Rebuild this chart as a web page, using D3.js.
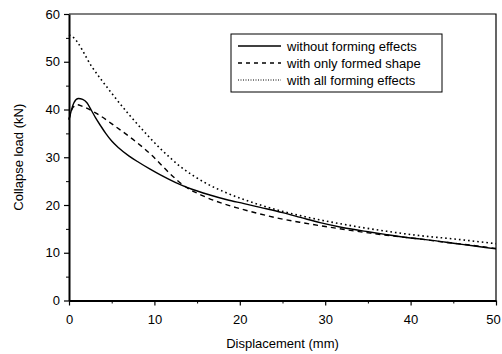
<!DOCTYPE html>
<html>
<head>
<meta charset="utf-8">
<script src="https://cdn.jsdelivr.net/npm/d3@7"></script>
<style>
  body { margin: 0; background: #fff; }
  text { font-family: "Liberation Sans", Arial, sans-serif; fill: #000; }
</style>
</head>
<body>
<div id="chart"></div>
<script>
// values
const solidDisp = [0, 0.3, 0.6, 1.1, 1.6, 2.1, 2.6, 3.1, 3.7, 4.3, 5, 5.8, 7, 8.2, 9.5, 10.7, 12.5, 14.4, 16.5, 18.5, 20.5, 22.4, 25, 27.1, 29.4, 32, 35, 37.2, 40, 42.5, 45, 47.5, 50];
const solidLoad = [37.8, 40, 41.5, 42.3, 42.1, 41.4, 39.9, 38.3, 36.6, 35.0, 33.4, 32.0, 30.3, 28.9, 27.5, 26.3, 24.7, 23.3, 22.1, 21.1, 20.3, 19.5, 18.4, 17.4, 16.3, 15.3, 14.4, 13.8, 13.1, 12.6, 12.0, 11.4, 10.8];

const dashedDisp = [0, 0.5, 1, 1.5, 3.1, 5.4, 7.8, 9.7, 10.7, 11.8, 13.5, 15.7, 17.7, 19.7, 22, 24.3, 27, 30, 32.5, 35.3, 38, 41, 44, 47, 50];
const dashedLoad = [38, 40.5, 41, 40.7, 39.3, 36.5, 33.3, 30.4, 28.6, 26.6, 24.0, 21.9, 20.5, 19.4, 18.3, 17.3, 16.4, 15.5, 14.8, 14.1, 13.5, 12.9, 12.2, 11.6, 10.9];

const dottedDisp = [0, 0.43, 2.7, 5, 7, 9.3, 10.7, 11.9, 13, 14.5, 16, 18.5, 22.4, 27.5, 32, 37.2, 41, 45, 50];
const dottedLoad = [55.6, 55.2, 48.9, 43.4, 39.0, 34.4, 31.8, 29.8, 28.1, 26.2, 24.6, 22.5, 20.0, 17.6, 16.0, 14.5, 13.6, 12.9, 11.9];

const seriesNames = ["without forming effects", "with only formed shape", "with all forming effects"];
const xTicks = [0, 10, 20, 30, 40, 50];
const yTicks = [0, 10, 20, 30, 40, 50, 60];

const width = 502, height = 354;
const margin = { top: 14, left: 69, right: 6, bottom: 53.5 };

const svg = d3.select("#chart").append("svg")
  .attr("width", width)
  .attr("height", height);

const x = d3.scaleLinear().domain([0, 50]).range([margin.left, width - margin.right]);
const y = d3.scaleLinear().domain([0, 60]).range([height - margin.bottom, margin.top]);

// frame (top and right)
svg.append("path")
  .attr("d", `M${x(0)},${y(60)}H${x(50)}V${y(0)}`)
  .attr("fill", "none")
  .attr("stroke", "#000")
  .attr("stroke-width", 1.2);

// minor ticks
svg.append("g")
  .attr("transform", `translate(0,${y(0)})`)
  .call(d3.axisBottom(x).tickValues(d3.range(5, 50, 10)).tickSize(3).tickFormat(""))
  .call(g => g.select(".domain").remove());
svg.append("g")
  .attr("transform", `translate(${x(0)},0)`)
  .call(d3.axisLeft(y).tickValues(d3.range(5, 60, 10)).tickSize(3).tickFormat(""))
  .call(g => g.select(".domain").remove());

// main axes
const xAxis = svg.append("g")
  .attr("transform", `translate(0,${y(0)})`)
  .call(d3.axisBottom(x).tickValues(xTicks).tickSize(5).tickSizeOuter(0).tickPadding(9));
const yAxis = svg.append("g")
  .attr("transform", `translate(${x(0)},0)`)
  .call(d3.axisLeft(y).tickValues(yTicks).tickSize(5).tickSizeOuter(0).tickPadding(4));

[xAxis, yAxis].forEach(a => {
  a.selectAll("text").style("font-size", "13px").style("font-family", "Liberation Sans, Arial, sans-serif");
  a.select(".domain").attr("stroke-width", 2);
  a.selectAll(".tick line").attr("stroke-width", 1.2);
});
// keep the last label inside the picture
xAxis.selectAll(".tick text").filter(d => d === 50).attr("dx", -3);

// axis titles
svg.append("text")
  .attr("x", (x(0) + x(50)) / 2)
  .attr("y", 348)
  .attr("text-anchor", "middle")
  .style("font-size", "13px")
  .text("Displacement (mm)");

svg.append("text")
  .attr("transform", `translate(23,${(y(0) + y(60)) / 2}) rotate(-90)`)
  .attr("text-anchor", "middle")
  .style("font-size", "13px")
  .text("Collapse load (kN)");

// curves
const line = d3.line()
  .x(d => x(d[0]))
  .y(d => y(d[1]))
  .curve(d3.curveMonotoneX);

const styles = [
  { dash: null, w: 1.4 },
  { dash: "5,4", w: 1.4 },
  { dash: "1.6,3", w: 1.6 }
];

const series = [
  d3.zip(solidDisp, solidLoad),
  d3.zip(dashedDisp, dashedLoad),
  d3.zip(dottedDisp, dottedLoad)
];

svg.selectAll("path.curve")
  .data(series)
  .join("path")
  .attr("class", "curve")
  .attr("d", line)
  .attr("fill", "none")
  .attr("stroke", "#000")
  .attr("stroke-width", (d, i) => styles[i].w)
  .attr("stroke-dasharray", (d, i) => styles[i].dash);

// legend
const legend = svg.append("g").attr("transform", "translate(231,34)");
legend.append("rect")
  .attr("width", 211)
  .attr("height", 58)
  .attr("fill", "#fff")
  .attr("stroke", "#000")
  .attr("stroke-width", 1);

const items = legend.selectAll("g.item")
  .data(seriesNames)
  .join("g")
  .attr("class", "item")
  .attr("transform", (d, i) => `translate(0,${12 + i * 17})`);

items.append("line")
  .attr("x1", 7).attr("x2", 50)
  .attr("stroke", "#000")
  .attr("stroke-width", (d, i) => i === 2 ? 1 : 1.3)
  .attr("stroke-dasharray", (d, i) => i === 1 ? "4,4" : (i === 2 ? "1,1.5" : null));

items.append("text")
  .attr("x", 56)
  .attr("dy", "0.35em")
  .style("font-size", "13px")
  .text(d => d);
</script>
</body>
</html>
